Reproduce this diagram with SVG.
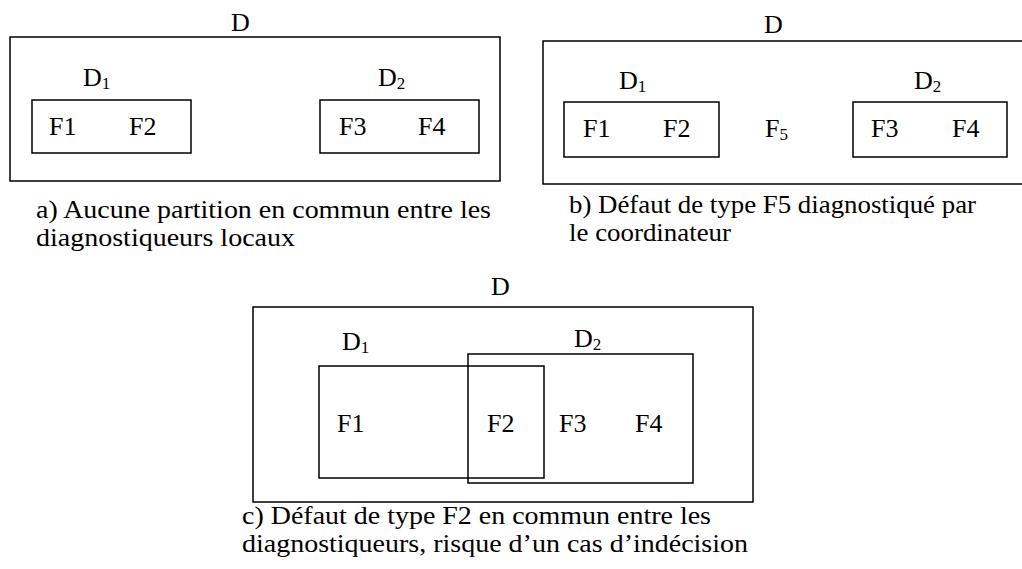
<svg xmlns="http://www.w3.org/2000/svg" width="1022" height="569" viewBox="0 0 1022 569">
<style>
rect{fill:none;stroke:#000;stroke-width:1.5}
text{fill:#000}
.l{font-size:26px}
.c{font-size:26px}
.s{font-size:17px}
</style>
<rect x="0" y="0" width="1022" height="569" style="fill:#fff;stroke:none"/>
<g font-family="'Liberation Serif', 'DejaVu Serif', serif">
<g id="panel-a">
  <g id="a-D"><rect x="10" y="37" width="490" height="144"/><text class="l" x="231" y="31">D</text></g>
  <g id="a-D1"><rect x="32" y="100" width="159" height="53"/><text class="l" x="83" y="86">D<tspan class="s" dy="3">1</tspan></text>
    <text class="l" x="49" y="135">F1</text><text class="l" x="129" y="135">F2</text></g>
  <g id="a-D2"><rect x="320" y="100" width="159" height="53"/><text class="l" x="378" y="86">D<tspan class="s" dy="3">2</tspan></text>
    <text class="l" x="339" y="135">F3</text><text class="l" x="418" y="135">F4</text></g>
  <text class="c" x="36" y="218" textLength="455" lengthAdjust="spacingAndGlyphs">a) Aucune partition en commun entre les</text>
  <text class="c" x="36" y="246" textLength="259" lengthAdjust="spacingAndGlyphs">diagnostiqueurs locaux</text>
</g>
<g id="panel-b">
  <g id="b-D"><rect x="543" y="41" width="490" height="143"/><text class="l" x="764" y="33">D</text>
    <text class="l" x="765" y="137">F<tspan class="s" dy="3">5</tspan></text></g>
  <g id="b-D1"><rect x="564" y="102" width="155" height="55"/><text class="l" x="619" y="89">D<tspan class="s" dy="3">1</tspan></text>
    <text class="l" x="583" y="137">F1</text><text class="l" x="663" y="137">F2</text></g>
  <g id="b-D2"><rect x="853" y="102" width="154" height="55"/><text class="l" x="914" y="89">D<tspan class="s" dy="3">2</tspan></text>
    <text class="l" x="871" y="137">F3</text><text class="l" x="952" y="137">F4</text></g>
  <text class="c" x="569" y="213" textLength="407" lengthAdjust="spacingAndGlyphs">b) Défaut de type F5 diagnostiqué par</text>
  <text class="c" x="569" y="241" textLength="162" lengthAdjust="spacingAndGlyphs">le coordinateur</text>
</g>
<g id="panel-c">
  <g id="c-D"><rect x="253" y="307" width="500" height="195"/><text class="l" x="491" y="295">D</text></g>
  <g id="c-D1"><rect x="319" y="366" width="225" height="112"/><text class="l" x="342" y="350">D<tspan class="s" dy="3">1</tspan></text>
    <text class="l" x="337" y="432">F1</text></g>
  <g id="c-D2"><rect x="468" y="354" width="225" height="129"/><text class="l" x="574" y="347">D<tspan class="s" dy="3">2</tspan></text>
    <text class="l" x="487" y="432">F2</text><text class="l" x="559" y="432">F3</text><text class="l" x="635" y="432">F4</text></g>
  <text class="c" x="242" y="524" textLength="469" lengthAdjust="spacingAndGlyphs">c) Défaut de type F2 en commun entre les</text>
  <text class="c" x="242" y="552" textLength="506" lengthAdjust="spacingAndGlyphs">diagnostiqueurs, risque d’un cas d’indécision</text>
</g>
</g>
</svg>
